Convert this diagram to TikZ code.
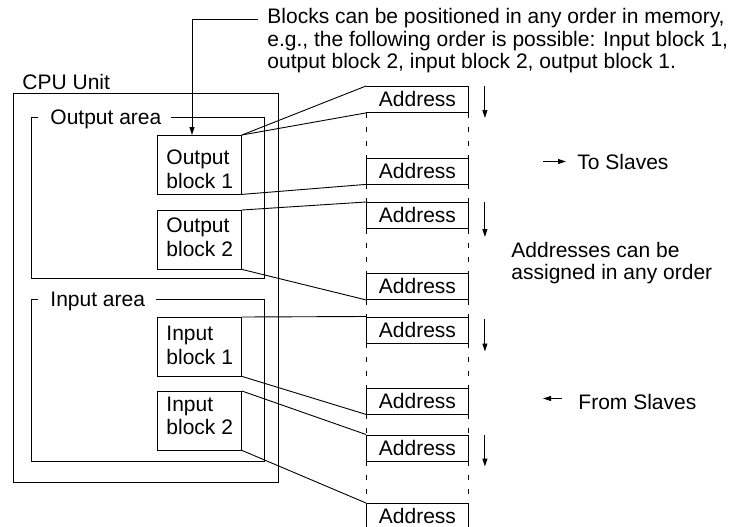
\documentclass[tikz,border=0pt]{standalone}
\usepackage{fontspec}
\setmainfont{Liberation Sans}
\usetikzlibrary{arrows.meta,calc}
\begin{document}
\begin{tikzpicture}[x=1pt,y=-1pt,line width=0.9pt,
  txt/.style={font=\fontsize{21}{23.5}\selectfont,inner sep=0pt},
  blk/.style={draw,anchor=north west,minimum width=84,minimum height=58.5,inner sep=0pt},
  addr/.style={draw,fill=white,anchor=north west,minimum width=102,minimum height=26,inner sep=0pt,font=\fontsize{21}{23.5}\selectfont},
  arr/.style={-{Triangle[length=8pt,width=5pt]}},
  dcol/.style={dash pattern=on 5pt off 9pt}]
\useasboundingbox (0,0) rectangle (734,527);

% CPU Unit
\node[draw,anchor=north west,minimum width=265,minimum height=389,inner sep=0pt] (cpu) at (13,93) {};
\node[txt,anchor=base west] (cpul) at (22,89) {CPU Unit};

% Output area
\node[anchor=north west,minimum width=233,minimum height=161,inner sep=0pt] (oa) at (31,117) {};
\draw ([xshift=7pt]oa.north west) -- (oa.north west) -- (oa.south west) -- (oa.south east) -- (oa.north east) -- ([xshift=-94pt]oa.north east);
\node[txt,anchor=base west] (oal) at (50,124.5) {Output area};

% Input area
\node[anchor=north west,minimum width=233,minimum height=162,inner sep=0pt] (ia) at (31,299) {};
\draw ([xshift=7pt]ia.north west) -- (ia.north west) -- (ia.south west) -- (ia.south east) -- (ia.north east) -- ([xshift=-109pt]ia.north east);
\node[txt,anchor=base west] (ial) at (50,306.5) {Input area};

% Blocks
\node[blk] (ob1) at (157,135) {};
\node[txt,anchor=north west,align=left] (ob1t) at (166,149.7) {Output\\block 1};
\node[blk] (ob2) at (157,210) {};
\node[txt,anchor=north west,align=left] (ob2t) at (166,217.7) {Output\\block 2};
\node[blk] (ib1) at (157,317) {};
\node[txt,anchor=north west,align=left] (ib1t) at (166,326) {Input\\block 1};
\node[blk] (ib2) at (157,391) {};
\node[txt,anchor=north west,align=left] (ib2t) at (166,396.5) {Input\\block 2};

% Address column
\node[addr,draw=none] (a1) at (366,86) {Address};
\node[addr] (a2) at (366,157.5) {Address};
\node[addr] (a3) at (366,202) {Address};
\node[addr] (a4) at (366,273) {Address};
\node[addr] (a5) at (366,316.5) {Address};
\node[addr] (a6) at (366,387.5) {Address};
\node[addr] (a7) at (366,434.5) {Address};
\node[addr] (a8) at (366,503) {Address};
\draw[dcol] (a1.south west) -- (a2.north west) (a2.south west) -- (a3.north west) (a3.south west) -- (a4.north west)
  (a4.south west) -- (a5.north west) (a5.south west) -- (a6.north west) (a6.south west) -- (a7.north west) (a7.south west) -- (a8.north west);
\draw[dcol] (a1.south east) -- (a2.north east) (a2.south east) -- (a3.north east) (a3.south east) -- (a4.north east)
  (a4.south east) -- (a5.north east) (a5.south east) -- (a6.north east) (a6.south east) -- (a7.north east) (a7.south east) -- (a8.north east);
\draw (a1.north west) -- (a1.north east) -- (a1.south east) -- (a1.south west);

% Connectors block -> address
\draw (ob1.north east) -- (a1.north west);
\draw (ob1.north east) -- (a1.south west);
\draw (ob1.south east) -- (a2.south west);
\draw (ob2.north east) -- (a3.north west);
\draw (ob2.south east) -- (a4.south west);
\draw (ib1.north east) -- (a5.north west);
\draw (ib1.south east) -- (a6.south west);
\draw (ib2.north east) -- (a7.north west);
\draw (ib2.south east) -- (a8.north west);

% Order arrows
\draw[arr] ([xshift=16pt]a1.north east) -- ++(0,32);
\draw[arr] ([xshift=16pt]a3.north east) -- ++(0,35);
\draw[arr] ([xshift=16pt,yshift=-2pt]a5.north east) -- ++(0,33);
\draw[arr] ([xshift=16pt]a7.north east) -- ++(0,32);

% Callout
\node[txt,anchor=north west,align=left,font=\fontsize{21}{22.5}\selectfont] (note) at (267,8.2)
  {Blocks can be positioned in any order in memory,\\e.g., the following order is possible: Input block 1,\\output block 2, input block 2, output block 1.};
\coordinate (ns) at (258,19);
\coordinate (nb) at (192,19);
\draw[arr] (ns) -- (nb) -- (nb |- ob1.north);

% Right side texts
\node[txt,anchor=base west] (to) at (577,169) {To Slaves};
\draw[arr] ([xshift=-34pt]to.west) -- ([xshift=-11pt]to.west);
\node[txt,anchor=north west,align=left,font=\fontsize{21}{22.5}\selectfont] (anyo) at (511,241.7) {Addresses can be\\assigned in any order};
\node[txt,anchor=base west] (fr) at (578,409) {From Slaves};
\draw[arr] ([xshift=-16pt,yshift=3pt]fr.west) -- ([xshift=-35pt,yshift=3pt]fr.west);
\end{tikzpicture}
\end{document}
